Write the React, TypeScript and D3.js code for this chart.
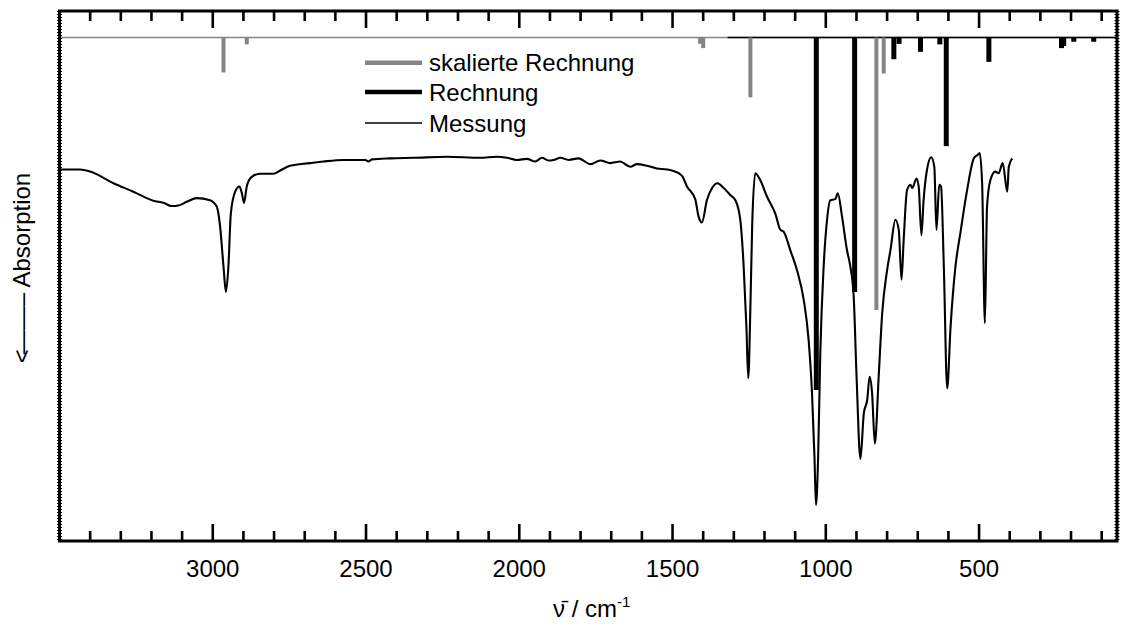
import React from 'react';
import * as d3 from 'd3';

// Measured IR spectrum (wavenumber in cm^-1, relative transmission)
const measWn = [3500, 3433, 3400, 3324, 3259, 3194, 3161, 3134, 3112, 3085, 3052, 3009, 2987, 2976, 2965, 2957, 2949, 2941, 2927, 2913, 2905, 2898, 2889, 2873, 2846, 2802, 2780, 2748, 2682, 2639, 2574, 2503, 2492, 2481, 2421, 2345, 2236, 2128, 2073, 2040, 2008, 1975, 1948, 1926, 1905, 1888, 1866, 1839, 1807, 1768, 1736, 1703, 1671, 1638, 1616, 1583, 1551, 1518, 1497, 1469, 1453, 1426, 1415, 1404, 1388, 1371, 1353, 1333, 1312, 1295, 1279, 1268, 1259, 1253, 1246, 1240, 1230, 1214, 1192, 1165, 1148, 1138, 1116, 1094, 1072, 1056, 1045, 1037, 1032, 1025, 1018, 1007, 996, 985, 969, 961, 947, 931, 920, 909, 900, 887, 876, 865, 857, 849, 840, 827, 816, 800, 789, 773, 762, 753, 746, 735, 724, 718, 704, 697, 688, 681, 670, 656, 646, 639, 630, 624, 615, 604, 593, 577, 561, 539, 517, 506, 498, 490, 481, 474, 463, 447, 436, 423, 408, 403, 392];
const measVal = [70.1, 70.1, 69.7, 67.5, 65.9, 64.2, 63.8, 63.2, 63.3, 64.0, 64.7, 64.3, 63.1, 59.3, 51.8, 47.0, 51.8, 61.8, 65.9, 66.9, 65.6, 63.8, 66.9, 68.7, 69.3, 69.3, 69.9, 70.8, 71.3, 71.6, 71.9, 71.9, 71.6, 72.0, 72.2, 72.3, 72.5, 72.3, 72.5, 72.3, 71.9, 72.1, 71.6, 72.3, 71.8, 71.9, 72.3, 71.9, 72.2, 71.1, 71.8, 71.3, 71.6, 70.6, 71.1, 70.8, 70.3, 70.1, 69.8, 68.9, 66.9, 64.5, 61.2, 60.1, 64.3, 66.6, 67.5, 66.6, 65.3, 64.3, 60.6, 51.8, 40.4, 30.7, 44.2, 59.9, 69.4, 68.1, 65.0, 61.8, 58.7, 58.4, 54.9, 51.1, 45.5, 37.9, 27.9, 15.9, 6.8, 15.9, 35.4, 51.8, 60.6, 64.3, 64.5, 65.6, 61.2, 54.9, 51.8, 46.1, 31.6, 15.5, 24.1, 26.6, 31.0, 27.9, 18.4, 31.6, 43.0, 51.1, 54.9, 60.6, 58.7, 49.3, 56.8, 66.2, 67.2, 66.6, 68.4, 66.9, 57.7, 64.3, 70.0, 72.4, 70.6, 58.7, 67.2, 66.9, 51.8, 28.8, 40.4, 51.8, 58.1, 66.2, 72.2, 72.8, 73.2, 67.5, 41.1, 63.1, 68.1, 69.7, 69.4, 71.3, 65.9, 70.6, 72.2];

// Scaled calculation (stick spectrum)
const scaledWn = [2965, 2889, 1410, 1400, 1246, 835, 811];
const scaledInt = [6.6, 1.3, 1.2, 2.0, 11.3, 51.4, 6.8];

// Unscaled calculation (stick spectrum)
const calcWn = [1031, 906, 778, 761, 691, 628, 607, 468, 231, 224, 191, 126];
const calcInt = [66.5, 48.0, 4.1, 1.2, 2.7, 1.3, 20.5, 4.6, 2.0, 1.6, 0.8, 0.8];

const xMajorTicks = [3000, 2500, 2000, 1500, 1000, 500];
const xMinorTicks = [3400, 3300, 3200, 3100, 2900, 2800, 2700, 2600, 2400, 2300, 2200, 2100, 1900, 1800, 1700, 1600, 1400, 1300, 1200, 1100, 900, 800, 700, 600, 400, 300, 200, 100];

const legendLabels = ['skalierte Rechnung', 'Rechnung', 'Messung'];

const W = 1122;
const H = 634;
const L = 59.5;
const R = 1117;
const T = 11;
const B = 541;
const FONT = '"Liberation Sans", Arial, Helvetica, sans-serif';
const GRAY = '#858585';
const BASE = 95;
const FS = 24;

export default function App() {
  const x = d3.scaleLinear().domain([3500, 50]).range([L, R]);
  const y = d3.scaleLinear().domain([0, 100]).range([B, T]);

  const meas = measWn.map((w, i) => [w, measVal[i]] as [number, number]);
  const lineGen = d3
    .line<[number, number]>()
    .x((d) => x(d[0]))
    .y((d) => y(d[1]))
    .curve(d3.curveMonotoneX);

  const legendY = [62.7, 92, 123];
  const legendStyle = [
    { stroke: GRAY, w: 4.5 },
    { stroke: '#000', w: 4.5 },
    { stroke: '#000', w: 1.6 },
  ];

  return (
    <svg
      width={W}
      height={H}
      viewBox={`0 0 ${W} ${H}`}
      style={{ position: 'absolute', left: 0, top: 0, background: '#fff' }}
    >
      <rect x={0} y={0} width={W} height={H} fill="#fff" />

      {/* measured spectrum */}
      <path d={lineGen(meas) || ''} fill="none" stroke="#000" strokeWidth={2.1} strokeLinejoin="round" />

      {/* stick baselines */}
      <line x1={x(3500)} x2={x(50)} y1={y(BASE)} y2={y(BASE)} stroke={GRAY} strokeWidth={1.5} />
      <line x1={x(1320)} x2={x(50)} y1={y(BASE)} y2={y(BASE)} stroke="#000" strokeWidth={1.5} />

      {/* scaled calculation sticks */}
      {scaledWn.map((w, i) => (
        <line
          key={'s' + i}
          x1={x(w)}
          x2={x(w)}
          y1={y(BASE)}
          y2={y(BASE - scaledInt[i])}
          stroke={GRAY}
          strokeWidth={4}
        />
      ))}
      {/* calculation sticks */}
      {calcWn.map((w, i) => (
        <line
          key={'c' + i}
          x1={x(w)}
          x2={x(w)}
          y1={y(BASE)}
          y2={y(BASE - calcInt[i])}
          stroke="#000"
          strokeWidth={5}
        />
      ))}

      {/* frame */}
      <rect x={L} y={T} width={R - L} height={B - T} fill="none" stroke="#000" strokeWidth={3} />
      <line x1={L} x2={L} y1={T} y2={B} stroke="#000" strokeWidth={5} strokeDasharray="1 2" />
      <line x1={R} x2={R} y1={T} y2={B} stroke="#000" strokeWidth={5} strokeDasharray="1 2" />

      {/* ticks */}
      {xMajorTicks.map((t) => (
        <g key={'M' + t}>
          <line x1={x(t)} x2={x(t)} y1={B} y2={B - 17} stroke="#000" strokeWidth={2.6} />
          <line x1={x(t)} x2={x(t)} y1={T} y2={T + 17} stroke="#000" strokeWidth={2.6} />
          <text x={x(t)} y={577} textAnchor="middle" fontFamily={FONT} fontSize={FS} fill="#000">
            {t}
          </text>
        </g>
      ))}
      {xMinorTicks.map((t) => (
        <g key={'m' + t}>
          <line x1={x(t)} x2={x(t)} y1={B} y2={B - 10} stroke="#000" strokeWidth={2.6} />
          <line x1={x(t)} x2={x(t)} y1={T} y2={T + 10} stroke="#000" strokeWidth={2.6} />
        </g>
      ))}

      {/* legend */}
      {legendLabels.map((lab, i) => (
        <g key={lab}>
          <line
            x1={365}
            x2={422}
            y1={legendY[i]}
            y2={legendY[i]}
            stroke={legendStyle[i].stroke}
            strokeWidth={legendStyle[i].w}
          />
          <text x={429} y={legendY[i] + 8.7} fontFamily={FONT} fontSize={FS} fill="#000">
            {lab}
          </text>
        </g>
      ))}

      {/* axis titles */}
      <text x={553} y={617} fontFamily={FONT} fontSize={FS} fill="#000">
        {'\u03BD\u0304 / cm'}
        <tspan fontSize={15} dy={-10}>
          -1
        </tspan>
      </text>
      <text
        transform="translate(30,268) rotate(-90)"
        textAnchor="middle"
        fontFamily={FONT}
        fontSize={FS}
        fill="#000"
      >
        <tspan>{'<'}</tspan>
        <tspan dx={-5}>{'\u2014\u2014\u2013'}</tspan>
        <tspan>{' Absorption'}</tspan>
      </text>
    </svg>
  );
}
